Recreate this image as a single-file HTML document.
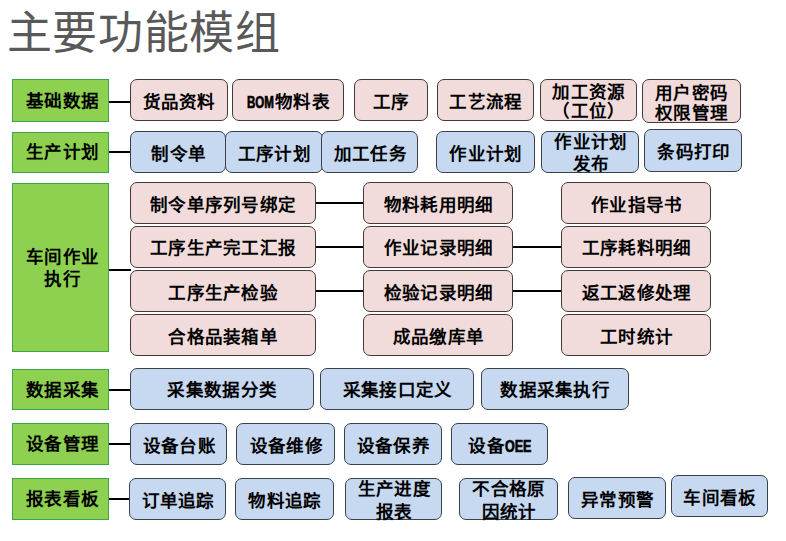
<!DOCTYPE html>
<html lang="zh-CN"><head><meta charset="utf-8"><style>
html,body{margin:0;padding:0;background:#fff;width:786px;height:541px;overflow:hidden;}
body{position:relative;font-family:"Liberation Serif",serif;}
.t{position:absolute;left:6.5px;top:4px;letter-spacing:0.7px;font-family:"Liberation Sans",sans-serif;font-size:45px;line-height:60px;color:#595959;white-space:nowrap;}
.b{position:absolute;box-sizing:border-box;display:flex;align-items:center;justify-content:center;text-align:center;font-weight:bold;color:#000;white-space:nowrap;}
.b span{display:block;}
.s{font-family:"Liberation Sans",sans-serif;letter-spacing:0;font-size:16.5px;display:inline-block;transform:scaleX(0.7);transform-origin:0 50%;margin-right:-10.5px;-webkit-text-stroke:0.7px #000;}
.o{transform:scaleX(0.76);margin-right:-7.4px;}
.l{position:absolute;height:2px;background:#000;}
</style></head><body>
<div class="t">主要功能模组</div>
<div class="b" style="left:12px;top:79px;width:97px;height:42.8px;background:#8ed150;border:1.5px solid #3aa648;border-radius:0;"><span style="font-size:17.5px;line-height:42.8px;letter-spacing:1.3px;margin-right:-1.3px;position:relative;top:0.5px;left:1.5px">基础数据</span></div>
<div class="b" style="left:12px;top:131.5px;width:97px;height:41.3px;background:#8ed150;border:1.5px solid #3aa648;border-radius:0;"><span style="font-size:17.5px;line-height:41.3px;letter-spacing:1.3px;margin-right:-1.3px;position:relative;top:0.5px;left:1.5px">生产计划</span></div>
<div class="b" style="left:12px;top:182.5px;width:97px;height:169.3px;background:#8ed150;border:1.5px solid #3aa648;border-radius:0;"><span style="font-size:17.5px;line-height:22px;letter-spacing:1.3px;margin-right:-1.3px;position:relative;top:0.5px;left:1.5px">车间作业<br>执行</span></div>
<div class="b" style="left:12px;top:369px;width:97px;height:40.8px;background:#8ed150;border:1.5px solid #3aa648;border-radius:0;"><span style="font-size:17.5px;line-height:40.8px;letter-spacing:1.3px;margin-right:-1.3px;position:relative;top:0.5px;left:1.5px">数据采集</span></div>
<div class="b" style="left:12px;top:423px;width:97px;height:41.8px;background:#8ed150;border:1.5px solid #3aa648;border-radius:0;"><span style="font-size:17.5px;line-height:41.8px;letter-spacing:1.3px;margin-right:-1.3px;position:relative;top:0.5px;left:1.5px">设备管理</span></div>
<div class="b" style="left:12px;top:478px;width:97px;height:41.8px;background:#8ed150;border:1.5px solid #3aa648;border-radius:0;"><span style="font-size:17.5px;line-height:41.8px;letter-spacing:1.3px;margin-right:-1.3px;position:relative;top:0.5px;left:1.5px">报表看板</span></div>
<div class="l" style="left:109px;top:101px;width:22px;"></div>
<div class="b" style="left:129.5px;top:78.7px;width:98.0px;height:42.8px;background:#f2dcdb;border:1.8px solid #443a3a;border-radius:7px;"><span style="font-size:17.5px;line-height:42.8px;letter-spacing:1.3px;margin-right:-1.3px;position:relative;top:2px;left:0px">货品资料</span></div>
<div class="b" style="left:232px;top:78.7px;width:112.0px;height:42.8px;background:#f2dcdb;border:1.8px solid #443a3a;border-radius:7px;"><span style="font-size:17.5px;line-height:42.8px;letter-spacing:1.3px;margin-right:-1.3px;position:relative;top:2px;left:0px"><b class="s">BOM</b>物料表</span></div>
<div class="b" style="left:353.5px;top:78.7px;width:74.5px;height:42.8px;background:#f2dcdb;border:1.8px solid #443a3a;border-radius:7px;"><span style="font-size:17.5px;line-height:42.8px;letter-spacing:1.3px;margin-right:-1.3px;position:relative;top:2px;left:0px">工序</span></div>
<div class="b" style="left:436.5px;top:78.7px;width:97.5px;height:42.8px;background:#f2dcdb;border:1.8px solid #443a3a;border-radius:7px;"><span style="font-size:17.5px;line-height:42.8px;letter-spacing:1.3px;margin-right:-1.3px;position:relative;top:2px;left:0px">工艺流程</span></div>
<div class="b" style="left:539.5px;top:78.7px;width:97.7px;height:42.8px;background:#f2dcdb;border:1.8px solid #443a3a;border-radius:7px;"><span style="font-size:17.5px;line-height:19px;letter-spacing:1.3px;margin-right:-1.3px;position:relative;top:2px;left:0px">加工资源<br>（工位）</span></div>
<div class="b" style="left:641.5px;top:79.2px;width:99.0px;height:43.5px;background:#f2dcdb;border:1.8px solid #443a3a;border-radius:7px;"><span style="font-size:17.5px;line-height:20.5px;letter-spacing:1.3px;margin-right:-1.3px;position:relative;top:2.5px;left:0px">用户密码<br>权限管理</span></div>
<div class="l" style="left:109px;top:151px;width:22px;"></div>
<div class="b" style="left:129.7px;top:130.8px;width:96.8px;height:42.5px;background:#c6d9f0;border:1.8px solid #3a414a;border-radius:7px;"><span style="font-size:17.5px;line-height:42.5px;letter-spacing:1.3px;margin-right:-1.3px;position:relative;top:2px;left:0px">制令单</span></div>
<div class="b" style="left:225px;top:130.8px;width:97.5px;height:42.5px;background:#c6d9f0;border:1.8px solid #3a414a;border-radius:7px;"><span style="font-size:17.5px;line-height:42.5px;letter-spacing:1.3px;margin-right:-1.3px;position:relative;top:2px;left:0px">工序计划</span></div>
<div class="b" style="left:321.4px;top:130.8px;width:96.7px;height:42.5px;background:#c6d9f0;border:1.8px solid #3a414a;border-radius:7px;"><span style="font-size:17.5px;line-height:42.5px;letter-spacing:1.3px;margin-right:-1.3px;position:relative;top:2px;left:0px">加工任务</span></div>
<div class="b" style="left:435.5px;top:130.8px;width:99.4px;height:42.5px;background:#c6d9f0;border:1.8px solid #3a414a;border-radius:7px;"><span style="font-size:17.5px;line-height:42.5px;letter-spacing:1.3px;margin-right:-1.3px;position:relative;top:2px;left:0px">作业计划</span></div>
<div class="b" style="left:541.4px;top:130.8px;width:97.7px;height:42.5px;background:#c6d9f0;border:1.8px solid #3a414a;border-radius:7px;"><span style="font-size:17.5px;line-height:22px;letter-spacing:1.3px;margin-right:-1.3px;position:relative;top:1px;left:0px">作业计划<br>发布</span></div>
<div class="b" style="left:644.4px;top:128.7px;width:98.1px;height:42.9px;background:#c6d9f0;border:1.8px solid #3a414a;border-radius:7px;"><span style="font-size:17.5px;line-height:42.9px;letter-spacing:1.3px;margin-right:-1.3px;position:relative;top:2px;left:0px">条码打印</span></div>
<div class="l" style="left:109px;top:268.5px;width:22px;"></div>
<div class="l" style="left:315px;top:201.9px;width:49px;"></div>
<div class="b" style="left:129.5px;top:181.8px;width:186.0px;height:42.4px;background:#f2dcdb;border:1.8px solid #443a3a;border-radius:7px;"><span style="font-size:17.5px;line-height:42.4px;letter-spacing:1.3px;margin-right:-1.3px;position:relative;top:2px;left:0px">制令单序列号绑定</span></div>
<div class="b" style="left:363px;top:181.8px;width:150.0px;height:42.4px;background:#f2dcdb;border:1.8px solid #443a3a;border-radius:7px;"><span style="font-size:17.5px;line-height:42.4px;letter-spacing:1.3px;margin-right:-1.3px;position:relative;top:2px;left:0px">物料耗用明细</span></div>
<div class="b" style="left:561px;top:181.8px;width:150.2px;height:42.4px;background:#f2dcdb;border:1.8px solid #443a3a;border-radius:7px;"><span style="font-size:17.5px;line-height:42.4px;letter-spacing:1.3px;margin-right:-1.3px;position:relative;top:2px;left:0px">作业指导书</span></div>
<div class="l" style="left:315px;top:245.8px;width:49px;"></div>
<div class="l" style="left:512.5px;top:245.8px;width:49.5px;"></div>
<div class="b" style="left:129.5px;top:226.1px;width:186.0px;height:41.6px;background:#f2dcdb;border:1.8px solid #443a3a;border-radius:7px;"><span style="font-size:17.5px;line-height:41.6px;letter-spacing:1.3px;margin-right:-1.3px;position:relative;top:2px;left:0px">工序生产完工汇报</span></div>
<div class="b" style="left:363px;top:226.1px;width:150.0px;height:41.6px;background:#f2dcdb;border:1.8px solid #443a3a;border-radius:7px;"><span style="font-size:17.5px;line-height:41.6px;letter-spacing:1.3px;margin-right:-1.3px;position:relative;top:2px;left:0px">作业记录明细</span></div>
<div class="b" style="left:561px;top:226.1px;width:150.2px;height:41.6px;background:#f2dcdb;border:1.8px solid #443a3a;border-radius:7px;"><span style="font-size:17.5px;line-height:41.6px;letter-spacing:1.3px;margin-right:-1.3px;position:relative;top:2px;left:0px">工序耗料明细</span></div>
<div class="l" style="left:315px;top:289.85px;width:49px;"></div>
<div class="l" style="left:512.5px;top:289.85px;width:49.5px;"></div>
<div class="b" style="left:129.5px;top:269.9px;width:186.0px;height:42.1px;background:#f2dcdb;border:1.8px solid #443a3a;border-radius:7px;"><span style="font-size:17.5px;line-height:42.1px;letter-spacing:1.3px;margin-right:-1.3px;position:relative;top:2px;left:0px">工序生产检验</span></div>
<div class="b" style="left:363px;top:269.9px;width:150.0px;height:42.1px;background:#f2dcdb;border:1.8px solid #443a3a;border-radius:7px;"><span style="font-size:17.5px;line-height:42.1px;letter-spacing:1.3px;margin-right:-1.3px;position:relative;top:2px;left:0px">检验记录明细</span></div>
<div class="b" style="left:561px;top:269.9px;width:150.2px;height:42.1px;background:#f2dcdb;border:1.8px solid #443a3a;border-radius:7px;"><span style="font-size:17.5px;line-height:42.1px;letter-spacing:1.3px;margin-right:-1.3px;position:relative;top:2px;left:0px">返工返修处理</span></div>
<div class="b" style="left:129.5px;top:313.6px;width:186.0px;height:42.7px;background:#f2dcdb;border:1.8px solid #443a3a;border-radius:7px;"><span style="font-size:17.5px;line-height:42.7px;letter-spacing:1.3px;margin-right:-1.3px;position:relative;top:2px;left:0px">合格品装箱单</span></div>
<div class="b" style="left:363px;top:313.6px;width:150.0px;height:42.7px;background:#f2dcdb;border:1.8px solid #443a3a;border-radius:7px;"><span style="font-size:17.5px;line-height:42.7px;letter-spacing:1.3px;margin-right:-1.3px;position:relative;top:2px;left:0px">成品缴库单</span></div>
<div class="b" style="left:561px;top:313.6px;width:150.2px;height:42.7px;background:#f2dcdb;border:1.8px solid #443a3a;border-radius:7px;"><span style="font-size:17.5px;line-height:42.7px;letter-spacing:1.3px;margin-right:-1.3px;position:relative;top:2px;left:0px">工时统计</span></div>
<div class="l" style="left:109px;top:388.5px;width:22px;"></div>
<div class="b" style="left:129.7px;top:368.4px;width:184.1px;height:41.6px;background:#c6d9f0;border:1.8px solid #3a414a;border-radius:7px;"><span style="font-size:17.5px;line-height:41.6px;letter-spacing:1.3px;margin-right:-1.3px;position:relative;top:2px;left:0px">采集数据分类</span></div>
<div class="b" style="left:319.6px;top:368.4px;width:154.8px;height:41.6px;background:#c6d9f0;border:1.8px solid #3a414a;border-radius:7px;"><span style="font-size:17.5px;line-height:41.6px;letter-spacing:1.3px;margin-right:-1.3px;position:relative;top:2px;left:0px">采集接口定义</span></div>
<div class="b" style="left:480.5px;top:368.4px;width:148.0px;height:41.6px;background:#c6d9f0;border:1.8px solid #3a414a;border-radius:7px;"><span style="font-size:17.5px;line-height:41.6px;letter-spacing:1.3px;margin-right:-1.3px;position:relative;top:2px;left:0px">数据采集执行</span></div>
<div class="l" style="left:109px;top:442.5px;width:22px;"></div>
<div class="b" style="left:129.7px;top:422.7px;width:97.8px;height:42.5px;background:#c6d9f0;border:1.8px solid #3a414a;border-radius:7px;"><span style="font-size:17.5px;line-height:42.5px;letter-spacing:1.3px;margin-right:-1.3px;position:relative;top:2px;left:0px">设备台账</span></div>
<div class="b" style="left:236.3px;top:422.7px;width:98.8px;height:42.5px;background:#c6d9f0;border:1.8px solid #3a414a;border-radius:7px;"><span style="font-size:17.5px;line-height:42.5px;letter-spacing:1.3px;margin-right:-1.3px;position:relative;top:2px;left:0px">设备维修</span></div>
<div class="b" style="left:343.6px;top:422.7px;width:98.4px;height:42.5px;background:#c6d9f0;border:1.8px solid #3a414a;border-radius:7px;"><span style="font-size:17.5px;line-height:42.5px;letter-spacing:1.3px;margin-right:-1.3px;position:relative;top:2px;left:0px">设备保养</span></div>
<div class="b" style="left:451.3px;top:422.7px;width:96.6px;height:42.5px;background:#c6d9f0;border:1.8px solid #3a414a;border-radius:7px;"><span style="font-size:17.5px;line-height:42.5px;letter-spacing:1.3px;margin-right:-1.3px;position:relative;top:2px;left:0px">设备<b class="s o">OEE</b></span></div>
<div class="l" style="left:109px;top:497.5px;width:21px;"></div>
<div class="b" style="left:128.8px;top:477.7px;width:97.5px;height:42.6px;background:#c6d9f0;border:1.8px solid #3a414a;border-radius:7px;"><span style="font-size:17.5px;line-height:42.6px;letter-spacing:1.3px;margin-right:-1.3px;position:relative;top:2px;left:0px">订单追踪</span></div>
<div class="b" style="left:235px;top:478.0px;width:98.8px;height:42.0px;background:#c6d9f0;border:1.8px solid #3a414a;border-radius:7px;"><span style="font-size:17.5px;line-height:42.0px;letter-spacing:1.3px;margin-right:-1.3px;position:relative;top:2px;left:0px">物料追踪</span></div>
<div class="b" style="left:345.3px;top:478.0px;width:97.1px;height:42.0px;background:#c6d9f0;border:1.8px solid #3a414a;border-radius:7px;"><span style="font-size:17.5px;line-height:23px;letter-spacing:1.3px;margin-right:-1.3px;position:relative;top:2px;left:0px">生产进度<br>报表</span></div>
<div class="b" style="left:459px;top:478.0px;width:98.8px;height:41.8px;background:#c6d9f0;border:1.8px solid #3a414a;border-radius:7px;"><span style="font-size:17.5px;line-height:23px;letter-spacing:1.3px;margin-right:-1.3px;position:relative;top:2px;left:0px">不合格原<br>因统计</span></div>
<div class="b" style="left:568.1px;top:476.7px;width:97.6px;height:42.5px;background:#c6d9f0;border:1.8px solid #3a414a;border-radius:7px;"><span style="font-size:17.5px;line-height:42.5px;letter-spacing:1.3px;margin-right:-1.3px;position:relative;top:2px;left:0px">异常预警</span></div>
<div class="b" style="left:670.5px;top:474.5px;width:97.5px;height:42.5px;background:#c6d9f0;border:1.8px solid #3a414a;border-radius:7px;"><span style="font-size:17.5px;line-height:42.5px;letter-spacing:1.3px;margin-right:-1.3px;position:relative;top:2px;left:0px">车间看板</span></div>
</body></html>
